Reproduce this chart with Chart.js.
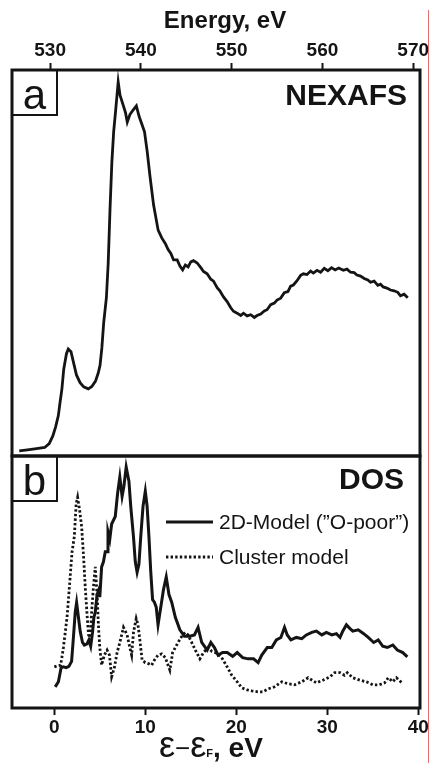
<!DOCTYPE html>
<html>
<head>
<meta charset="utf-8">
<script src="https://cdn.jsdelivr.net/npm/chart.js@4.4.1/dist/chart.umd.min.js"></script>
<style>
  body { margin: 0; background: #fff; }
  #wrap { position: relative; width: 431px; height: 769px; overflow: hidden; }
  #nexafs { position: absolute; left: 0; top: 0; }
  #dos { position: absolute; left: 0; top: 440px; }
  #edge { position: absolute; left: 428px; top: 10px; width: 1px; height: 753px; background: #e46f6f; }
</style>
</head>
<body>
<div id="wrap">
  <canvas id="nexafs" width="431" height="460"></canvas>
  <canvas id="dos" width="431" height="329"></canvas>
  <div id="edge"></div>
</div>
<script>
const FONT = '"Liberation Sans", Arial, sans-serif';
const INK = '#141414';

// (a) O K-edge NEXAFS, photon energy in eV
const energyTicks = [530, 540, 550, 560, 570];
const nexafsEnergy = [526.6, 527.5, 528.5, 529.4, 529.9, 530.3, 530.6, 530.9, 531.1, 531.3, 531.5, 531.8, 532.0, 532.3, 532.6, 532.9,
  533.3, 533.7, 534.2, 534.6, 535.0, 535.3, 535.5, 535.7, 535.9, 536.2, 536.4, 536.6, 536.8, 537.0, 537.2, 537.5, 537.7, 537.9,
  538.1, 538.3, 538.5, 538.8, 539.1, 539.5, 539.8, 540.1, 540.4, 540.7, 541.0, 541.4, 541.9, 542.3, 542.7, 543.0, 543.3, 543.6,
  544.0, 544.3, 544.6, 544.9, 545.2, 545.5, 545.8, 546.2, 546.6, 546.9, 547.3, 547.7, 548.0, 548.4, 548.7, 549.1, 549.5, 549.9,
  550.2, 550.6, 551.0, 551.3, 551.7, 552.1, 552.5, 552.8, 553.2, 553.6, 553.9, 554.3, 554.7, 555.0, 555.4, 555.8, 556.2, 556.5,
  556.8, 557.2, 557.6, 557.9, 558.3, 558.7, 559.0, 559.4, 559.8, 560.2, 560.6, 561.0, 561.4, 561.8, 562.3, 562.7, 563.1, 563.5,
  563.8, 564.2, 564.6, 565.0, 565.3, 565.7, 566.1, 566.4, 566.7, 567.1, 567.5, 567.9, 568.3, 568.6, 569.0, 569.4];
const nexafsIntensity = [1.3, 1.6, 1.9, 2.2, 3.2, 5.2, 7.5, 10.4, 14.0, 17.4, 22.5, 26.5, 27.7, 27.0, 24.0, 21.0,
  19.0, 17.9, 17.4, 18.0, 19.4, 21.5, 23.5, 28.0, 34.5, 41.0, 50.0, 64.0, 76.0, 84.0, 89.0, 96.9, 93.5, 92.0,
  90.5, 89.0, 86.5, 88.5, 89.5, 90.7, 88.0, 86.0, 84.0, 78.8, 72.5, 65.0, 58.5, 56.5, 55.0, 53.5, 52.5, 50.8,
  50.8, 49.2, 48.2, 49.5, 49.0, 50.3, 50.6, 50.0, 48.8, 47.8, 47.2, 45.8, 45.3, 43.6, 42.8, 41.2, 40.0, 38.4,
  37.5, 37.0, 36.4, 37.0, 36.3, 36.6, 35.9, 36.4, 36.8, 37.6, 37.9, 39.2, 39.6, 40.4, 40.9, 42.3, 42.6, 44.0,
  44.3, 45.4, 46.8, 47.2, 47.0, 47.9, 47.4, 48.1, 47.6, 48.6, 48.0, 48.8, 48.2, 48.7, 48.1, 48.4, 47.6, 47.5,
  46.9, 46.6, 46.0, 45.6, 45.0, 45.3, 44.2, 44.5, 43.8, 43.5, 43.0, 42.8, 42.4, 41.5, 41.9, 41.0];

// (b) density of states vs. E - E_F
const dosTicks = [0, 10, 20, 30, 40];
const seriesNames = ['2D-Model (\u201DO-poor\u201D)', 'Cluster model'];
const model2dE = [0.1, 0.45, 0.75, 1.0, 1.3, 1.6, 1.9, 2.1, 2.3, 2.45, 2.65, 2.85, 3.1, 3.3, 3.6, 3.8, 4.0, 4.2, 4.35, 4.5,
  4.7, 4.9, 5.0, 5.2, 5.4, 5.6, 5.8, 5.9, 6.1, 6.3, 6.7, 6.95, 7.2, 7.45, 7.65, 7.9, 8.2, 8.4, 8.7, 8.9, 9.1, 9.3, 9.5,
  9.75, 10.0, 10.2, 10.4, 10.6, 10.8, 11.0, 11.2, 11.4, 11.7, 12.0, 12.3, 12.6, 12.9, 13.3, 13.8, 14.3, 14.9, 15.4, 15.8,
  16.2, 16.8, 17.2, 17.6, 18.0, 18.5, 19.0, 19.6, 20.1, 20.7, 21.3, 21.9, 22.4, 22.8, 23.4, 23.9, 24.4, 24.9, 25.3, 25.6,
  26.0, 26.6, 27.2, 27.7, 28.3, 28.8, 29.4, 29.9, 30.5, 31.0, 31.4, 31.7, 32.1, 32.5, 32.8, 33.4, 34.0, 34.5, 35.1, 35.6,
  36.1, 36.6, 37.2, 37.7, 38.3, 38.8];
const model2dDos = [8.4, 10.4, 16.0, 16.3, 16.0, 16.5, 18.5, 28, 38, 41.8, 36, 30.3, 26, 25, 25.5, 27, 24.5, 30, 36, 38,
  45, 47, 44, 56, 58, 62, 62, 70, 67, 73, 76, 85, 91.6, 84, 88, 95.6, 90, 80, 68, 58, 53.8, 57, 68,
  80, 86, 80, 68, 54, 43, 42, 40, 33, 40, 47, 52, 45, 42, 36, 31, 28.5, 28.5, 29, 32,
  26, 23, 26, 24, 21, 22, 22, 20.5, 22, 20, 19.5, 19.5, 18, 21, 24, 24, 27, 28, 32, 29,
  27, 28, 27.5, 29, 30, 30.5, 29, 30, 29, 29.5, 28, 30.5, 33, 31.5, 30.5, 31, 29.5, 28, 26, 27,
  24.5, 24, 25, 23, 22, 20.3];
const clusterE = [0.0, 0.4, 0.7, 1.0, 1.4, 1.7, 1.95, 2.2, 2.4, 2.56, 2.8, 3.0, 3.2, 3.4, 3.6, 3.76, 3.95, 4.1, 4.3, 4.5,
  4.7, 4.86, 5.0, 5.2, 5.5, 5.8, 6.06, 6.3, 6.6, 6.9, 7.2, 7.6, 8.0, 8.3, 8.5, 8.7, 9.0, 9.2, 9.4, 9.65, 10.0, 10.4,
  10.7, 11.0, 11.4, 11.8, 12.2, 12.5, 12.7, 13.0, 13.6, 14.1, 14.4, 14.7, 15.1, 15.5, 16.0, 16.4, 16.9, 17.3, 17.7,
  18.4, 19.0, 19.5, 20.1, 20.6, 21.2, 21.7, 22.4, 22.9, 23.5, 24.2, 25.0, 25.7, 26.4, 27.2, 27.9, 28.8, 29.5, 30.3,
  30.8, 31.4, 31.9, 32.2, 32.8, 33.6, 34.3, 35.0, 35.7, 36.3, 36.7, 37.2, 37.6, 38.2];
const clusterDos = [16.3, 16.8, 17, 24, 36, 50, 62, 68, 81, 83.6, 78, 72, 61, 48, 37, 29, 28, 38, 48, 56,
  45, 32, 24, 17, 21, 23, 21, 12.4, 16, 22, 26, 32, 29, 24, 21, 30, 35.5, 33, 27, 19, 18, 17.5,
  17, 19, 21, 21.5, 20, 17, 15, 22, 26, 29, 30, 29, 26, 23, 19.5, 22, 24, 22.5, 22,
  20, 16.3, 13, 10.4, 8, 7.2, 6.8, 6.4, 6.4, 7.6, 8.4, 10.4, 9.6, 9.2, 10.4, 12, 10, 11, 12.4,
  14, 14, 13, 14, 12, 11, 10.4, 9.2, 9.2, 10, 12, 10.4, 12, 10];

function points(xs, ys) {
  return xs.map((x, i) => ({ x: x, y: ys[i] }));
}

// frame, letter box and heading of one panel
function panelFrame(letter, heading, headingInset, headingDrop) {
  return {
    id: 'panelFrame',
    afterDraw(chart) {
      const ctx = chart.ctx;
      const a = chart.chartArea;
      ctx.save();
      ctx.strokeStyle = INK;
      ctx.fillStyle = INK;
      ctx.lineWidth = 3;
      ctx.strokeRect(a.left, a.top, a.right - a.left, a.bottom - a.top);
      ctx.lineWidth = 2;
      ctx.strokeRect(a.left, a.top, 45, 45);
      ctx.font = '42px ' + FONT;
      ctx.textAlign = 'center';
      ctx.textBaseline = 'alphabetic';
      ctx.fillText(letter, a.left + 22.5, a.top + 39);
      ctx.font = 'bold 30px ' + FONT;
      ctx.textAlign = 'right';
      ctx.fillText(heading, a.right - headingInset, a.top + headingDrop);
      ctx.restore();
    }
  };
}

const energyTitle = {
  id: 'energyTitle',
  afterDraw(chart) {
    const ctx = chart.ctx;
    ctx.save();
    ctx.fillStyle = INK;
    ctx.font = 'bold 24px ' + FONT;
    ctx.textAlign = 'center';
    ctx.textBaseline = 'alphabetic';
    ctx.fillText('Energy, eV', 225, 28);
    ctx.restore();
  }
};

// legend inside panel b, styled from the datasets
const dosLegend = {
  id: 'dosLegend',
  afterDraw(chart) {
    const ctx = chart.ctx;
    const top = chart.chartArea.top;
    ctx.save();
    chart.data.datasets.forEach((ds, i) => {
      const y = top + 66 + i * 35;
      ctx.strokeStyle = ds.borderColor;
      ctx.lineWidth = ds.borderWidth;
      ctx.setLineDash(ds.borderDash || []);
      ctx.beginPath();
      ctx.moveTo(166, y);
      ctx.lineTo(213, y);
      ctx.stroke();
      ctx.setLineDash([]);
      ctx.fillStyle = INK;
      ctx.font = '21px ' + FONT;
      ctx.textBaseline = 'middle';
      ctx.textAlign = 'left';
      ctx.fillText(ds.label, 219, y + 1);
    });
    ctx.restore();
  }
};

// "ε−ε_F, eV" under the bottom axis
const dosTitle = {
  id: 'dosTitle',
  afterDraw(chart) {
    const ctx = chart.ctx;
    const base = 317;
    const parts = [
      ['\u03B5', '36px ' + FONT],
      ['\u2212', '26px ' + FONT],
      ['\u03B5', '36px ' + FONT],
      ['F', 'bold 11px ' + FONT],
      [', eV', 'bold 28px ' + FONT]
    ];
    let x = 159;
    ctx.save();
    ctx.fillStyle = INK;
    ctx.textAlign = 'left';
    ctx.textBaseline = 'alphabetic';
    parts.forEach(p => {
      ctx.font = p[1];
      ctx.fillText(p[0], x, base);
      x += ctx.measureText(p[0]).width;
    });
    ctx.restore();
  }
};

function axis(position, min, max, tickValues, height) {
  return {
    type: 'linear',
    position: position,
    min: min,
    max: max,
    afterFit: s => { s.height = height; },
    afterBuildTicks: s => { s.ticks = tickValues.map(v => ({ value: v })); },
    ticks: {
      color: INK,
      padding: 1,
      maxRotation: 0,
      autoSkip: false,
      font: { family: FONT, size: 19, weight: 'bold' }
    },
    grid: { drawOnChartArea: false, tickLength: 7, tickWidth: 2, tickColor: INK, color: INK },
    border: { display: false }
  };
}

const commonOptions = {
  responsive: false,
  animation: false,
  events: [],
  plugins: { legend: { display: false }, tooltip: { enabled: false } }
};

function createNexafsChart() {
  const ctx = document.getElementById('nexafs').getContext('2d');
  new Chart(ctx, {
    type: 'line',
    data: {
      datasets: [{
        label: 'NEXAFS',
        data: points(nexafsEnergy, nexafsIntensity),
        borderColor: INK,
        borderWidth: 2.8,
        pointRadius: 0,
        tension: 0
      }]
    },
    options: Object.assign({}, commonOptions, {
      layout: { padding: { left: 12, right: 11, top: 0, bottom: 4 } },
      scales: {
        x: axis('top', 525.8, 570.75, energyTicks, 70),
        y: { display: false, min: 0, max: 100 }
      }
    }),
    plugins: [panelFrame('a', 'NEXAFS', 13, 35), energyTitle]
  });
}

function createDosChart() {
  const ctx = document.getElementById('dos').getContext('2d');
  new Chart(ctx, {
    type: 'line',
    data: {
      datasets: [{
        label: seriesNames[0],
        data: points(model2dE, model2dDos),
        borderColor: INK,
        borderWidth: 3,
        pointRadius: 0,
        tension: 0
      }, {
        label: seriesNames[1],
        data: points(clusterE, clusterDos),
        borderColor: INK,
        borderWidth: 2.8,
        borderDash: [2.4, 2.2],
        borderCapStyle: 'butt',
        pointRadius: 0,
        tension: 0
      }]
    },
    options: Object.assign({}, commonOptions, {
      layout: { padding: { left: 12, right: 11, top: 16, bottom: 0 } },
      scales: {
        x: axis('bottom', -4.65, 40.19, dosTicks, 61),
        y: { display: false, min: 0, max: 100 }
      }
    }),
    plugins: [panelFrame('b', 'DOS', 16, 33), dosLegend, dosTitle]
  });
}

createNexafsChart();
createDosChart();
</script>
</body>
</html>
